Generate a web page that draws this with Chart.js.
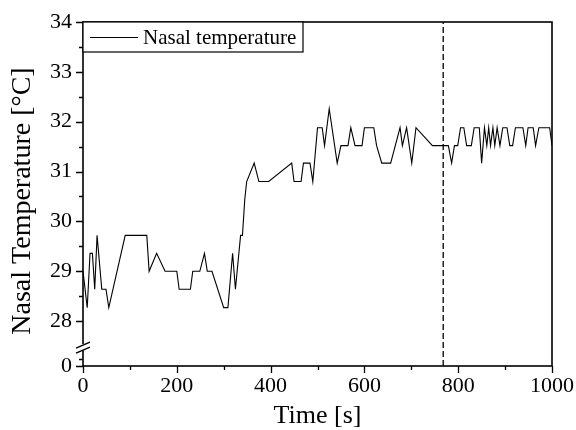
<!DOCTYPE html>
<html>
<head>
<meta charset="utf-8">
<script src="https://cdn.jsdelivr.net/npm/chart.js@4"></script>
<style>
  html, body { margin: 0; padding: 0; background: #fff; }
  #wrap { width: 576px; height: 430px; }
</style>
</head>
<body>
<div id="wrap"><canvas id="c" width="576" height="430"></canvas></div>
<script>
// ---- data ----
const timeSec = [0,9,15,20,25,30,40,49,55,90,136,141,157,175,200,205,229,234,249,259,265,275,300,309,319,325,336,340,345,349,365,375,396,445,450,465,470,484,490,500,510,515,525,542,550,565,571,580,595,600,620,626,637,656,676,681,690,701,710,745,779,786,792,799,805,812,818,828,834,845,850,856,861,865,869,874,878,883,889,895,904,910,916,922,938,944,949,960,965,972,995,1000];
const nasalTemp = [29.0,28.27,29.36,29.36,28.64,29.72,28.64,28.64,28.27,29.72,29.72,29.0,29.36,29.0,29.0,28.64,28.64,29.0,29.0,29.36,29.0,29.0,28.27,28.27,29.36,28.64,29.72,29.72,30.45,30.8,31.17,30.8,30.8,31.17,30.8,30.8,31.17,31.17,30.8,31.88,31.88,31.52,32.26,31.17,31.52,31.52,31.88,31.52,31.52,31.88,31.88,31.52,31.17,31.17,31.88,31.52,31.88,31.17,31.88,31.52,31.52,31.17,31.52,31.52,31.88,31.88,31.52,31.52,31.88,31.88,31.17,31.88,31.52,31.88,31.52,31.88,31.52,31.88,31.52,31.88,31.88,31.52,31.52,31.88,31.88,31.52,31.88,31.88,31.52,31.88,31.88,31.52];
const markerTime = [768, 768];
const markerTemp = [0, 34];
const yTickLabels = [0, 28, 29, 30, 31, 32, 33, 34];
const xTickLabels = [0, 200, 400, 600, 800, 1000];
const legendLabel = 'Nasal temperature';

// broken y axis: values >= 28 are shifted down so 28 sits just above 0
const BREAK_OFFSET = 27.1;
const tv = v => (v >= 28 ? v - BREAK_OFFSET : v * 0);
const yTickPos = yTickLabels.map(tv);
const yMinorPos = [28.5, 29.5, 30.5, 31.5, 32.5, 33.5].map(tv).concat([0.14]);
const xMinor = [100, 300, 500, 700, 900];

const FONT = "'Liberation Serif', 'Times New Roman', serif";

const decor = {
  id: 'decor',
  afterDraw(chart) {
    const ctx = chart.ctx;
    const a = chart.chartArea;
    const xs = chart.scales.x, ys = chart.scales.y;
    ctx.save();
    ctx.strokeStyle = '#000';
    // ticks
    ctx.lineWidth = 1.3;
    ctx.beginPath();
    yTickPos.forEach(v => { const y = Math.round(ys.getPixelForValue(v)) + 0.5; ctx.moveTo(a.left - 7, y); ctx.lineTo(a.left, y); });
    yMinorPos.forEach(v => { const y = Math.round(ys.getPixelForValue(v)) + 0.5; ctx.moveTo(a.left - 4, y); ctx.lineTo(a.left, y); });
    xTickLabels.forEach(v => { const x = Math.round(xs.getPixelForValue(v)) + 0.5; ctx.moveTo(x, a.bottom); ctx.lineTo(x, a.bottom + 7); });
    xMinor.forEach(v => { const x = Math.round(xs.getPixelForValue(v)) + 0.5; ctx.moveTo(x, a.bottom); ctx.lineTo(x, a.bottom + 4); });
    ctx.stroke();
    // frame
    ctx.lineWidth = 1.6;
    ctx.strokeRect(a.left, a.top, a.right - a.left, a.bottom - a.top);
    // axis break
    const yb = ys.getPixelForValue(0.38);
    ctx.fillStyle = '#fff';
    ctx.fillRect(a.left - 2, yb - 3, 4, 6);
    ctx.lineWidth = 1.4;
    ctx.beginPath();
    ctx.moveTo(a.left - 7, yb + 1); ctx.lineTo(a.left + 7, yb - 5);
    ctx.moveTo(a.left - 7, yb + 6); ctx.lineTo(a.left + 7, yb);
    ctx.stroke();
    // legend
    const lx = a.left, ly = a.top, lw = 220, lh = 30;
    ctx.fillStyle = '#fff';
    ctx.fillRect(lx, ly, lw, lh);
    ctx.lineWidth = 1.2;
    ctx.strokeRect(lx, ly, lw, lh);
    ctx.lineWidth = 1;
    ctx.beginPath();
    ctx.moveTo(lx + 7, ly + 15.5); ctx.lineTo(lx + 55, ly + 15.5);
    ctx.stroke();
    ctx.fillStyle = '#000';
    ctx.font = '21px ' + FONT;
    ctx.textBaseline = 'middle';
    ctx.textAlign = 'left';
    ctx.fillText(legendLabel, lx + 60, ly + 16);
    ctx.restore();
  }
};

new Chart(document.getElementById('c'), {
  type: 'line',
  data: {
    datasets: [
      {
        label: legendLabel,
        data: timeSec.map((t, i) => ({ x: t, y: tv(nasalTemp[i]) })),
        borderColor: '#000',
        borderWidth: 1.1,
        pointRadius: 0,
        tension: 0,
        fill: false
      },
      {
        label: 'marker',
        data: markerTime.map((t, i) => ({ x: t, y: tv(markerTemp[i]) })),
        borderColor: '#000',
        borderWidth: 1.3,
        borderDash: [6, 3],
        pointRadius: 0,
        fill: false
      }
    ]
  },
  options: {
    responsive: false,
    animation: false,
    devicePixelRatio: 1,
    layout: { padding: { left: 0, right: 24, top: 22, bottom: 0 } },
    plugins: { legend: { display: false }, tooltip: { enabled: false } },
    scales: {
      x: {
        type: 'linear', min: 0, max: 1000,
        afterBuildTicks: s => { s.ticks = xTickLabels.map(v => ({ value: v })); },
        afterFit: s => { s.height = 64; s.paddingRight = 0; s.paddingLeft = 0; },
        grid: { display: false, drawTicks: false },
        border: { display: false },
        ticks: { color: '#000', font: { family: FONT, size: 22 }, padding: 7, maxRotation: 0, callback: v => String(v) },
        title: { display: true, text: 'Time [s]', color: '#000', font: { family: FONT, size: 26 }, padding: { top: 0, bottom: -2 } }
      },
      y: {
        type: 'linear', min: 0, max: tv(34),
        afterBuildTicks: s => { s.ticks = yTickPos.map(v => ({ value: v })); },
        afterFit: s => { s.width = 83; s.paddingTop = 0; s.paddingBottom = 0; },
        grid: { display: false, drawTicks: false },
        border: { display: false },
        ticks: {
          color: '#000', font: { family: FONT, size: 22 }, padding: 11,
          callback: (val) => { const i = yTickPos.findIndex(p => Math.abs(p - val) < 1e-6); return i >= 0 ? String(yTickLabels[i]) : ''; }
        },
        title: { display: true, text: 'Nasal Temperature [°C]  ', color: '#000', font: { family: FONT, size: 28 }, padding: { top: 6, bottom: 0 } }
      }
    }
  },
  plugins: [decor]
});
</script>
</body>
</html>
